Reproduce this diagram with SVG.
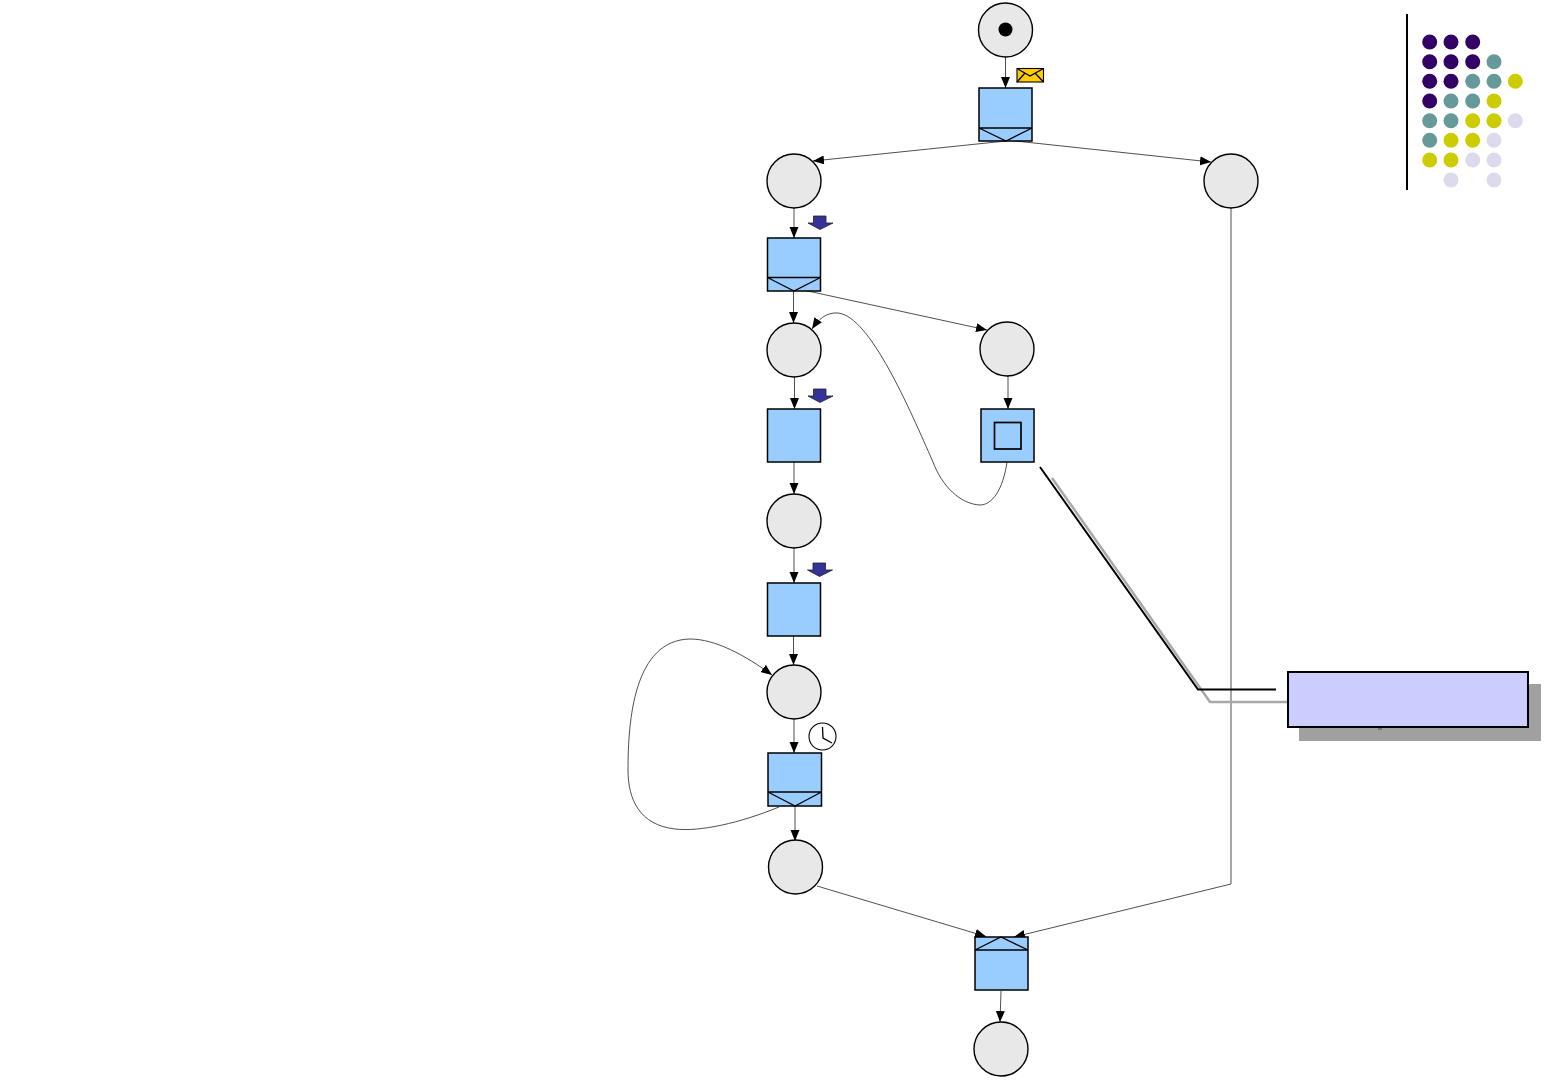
<svg xmlns="http://www.w3.org/2000/svg" width="1560" height="1080" viewBox="0 0 1560 1080">
<style>
.p{fill:#e8e8e8;stroke:#000;stroke-width:1.4}
.t{fill:#99ccff;stroke:#000;stroke-width:1.5}
.s{fill:none;stroke:#000;stroke-width:1.3}
.c{fill:none;stroke:#222;stroke-width:.8;marker-end:url(#a)}
.dn{fill:#333399;stroke:#222;stroke-width:.8}
.d1{fill:#330066}.d2{fill:#669999}.d3{fill:#cccc00}.d4{fill:#dcdaec}
</style>
<defs>
<marker id="a" markerUnits="userSpaceOnUse" markerWidth="12" markerHeight="10" refX="11" refY="4.500" orient="auto"><path d="M0 0L11 4.500L0 9Z" fill="#000"/></marker>
</defs>
<g id="connectors">
<path class="c" d="M1005.500 57V88"/>
<path class="c" d="M1006 141L813 161"/>
<path class="c" d="M1006 140L1211 162"/>
<path class="c" d="M794 208V238"/>
<path class="c" d="M793.500 292V323"/>
<path class="c" d="M794 288L987 330"/>
<path class="c" d="M794.500 377V409"/>
<path class="c" d="M1008 376V409"/>
<path class="c" d="M1007 462C1003 490 992 505 980 505C960 504 942 486 933 462C910 410 870 316 838 313C826 312 818 320 812 329"/>
<path class="c" d="M794 462V494"/>
<path class="c" d="M794 548V583"/>
<path class="c" d="M793.500 636V665"/>
<path class="c" d="M794 719V753"/>
<path class="c" d="M795 806V841"/>
<path class="c" d="M779 807C740 823 700 832 675 829C640 825 628 800 628 770C628 720 634 640 690 639C715 639 745 655 772 675"/>
<path class="c" d="M817 886L986 936.500"/>
<path class="c" d="M1231 208V884L1014 937"/>
<path class="c" d="M1001 991L1000 1022"/>
</g>
<g id="place-start"><circle class="p" cx="1005.500" cy="30" r="27"/><circle cx="1005.500" cy="29.500" r="7"/></g>
<g id="message-icon"><rect x="1017" y="68.500" width="26.500" height="13.500" fill="#ffcc00" stroke="#000" stroke-width="1.1"/><path class="s" d="M1017 68.500L1030 76L1043.500 68.500M1017 82L1025 73M1043.500 82L1035 73"/></g>
<g id="transition-1"><rect class="t" x="979" y="88" width="53" height="53"/><path class="s" d="M979 128H1032M979 128L1006 141L1032 128"/></g>
<g id="place-2"><circle class="p" cx="794" cy="181" r="27"/></g>
<g id="place-3"><circle class="p" cx="1231" cy="181" r="27"/></g>
<g id="trigger-1"><path class="dn" d="M813.500 216H826V223H833L820 229.500L808 223H813.500Z"/></g>
<g id="transition-2"><rect class="t" x="767.500" y="238" width="53" height="53"/><path class="s" d="M767.500 277.500H820.500M767.500 277.500L794 291L820.500 277.500"/></g>
<g id="place-4"><circle class="p" cx="794" cy="350" r="27"/></g>
<g id="place-5"><circle class="p" cx="1007" cy="349" r="27"/></g>
<g id="trigger-2"><path class="dn" d="M813.500 389H826V396H833L820 402.500L808 396H813.500Z"/></g>
<g id="transition-3"><rect class="t" x="767.500" y="409" width="53" height="53"/></g>
<g id="transition-4"><rect class="t" x="981" y="409" width="53" height="53"/><rect x="994.500" y="422.500" width="26.500" height="26.500" fill="none" stroke="#000" stroke-width="1.700"/></g>
<g id="place-6"><circle class="p" cx="794" cy="521" r="27"/></g>
<g id="trigger-3"><path class="dn" d="M813 563H825.500V570H832.500L819.500 576.500L807.500 570H813Z"/></g>
<g id="transition-5"><rect class="t" x="767.500" y="583" width="53" height="53"/></g>
<g id="place-7"><circle class="p" cx="794" cy="692" r="27"/></g>
<g id="timer-icon"><circle cx="822.500" cy="736.500" r="13.500" fill="#fff" stroke="#000" stroke-width="1.100"/><path class="s" d="M822.500 727L823 738L832 743"/></g>
<g id="transition-6"><rect class="t" x="768" y="753" width="53.500" height="53"/><path class="s" d="M768 792H821.500M768 792L795 806L821.500 792"/></g>
<g id="place-8"><circle class="p" cx="795.500" cy="867" r="27"/></g>
<g id="transition-7"><rect class="t" x="975" y="937" width="53" height="53"/><path class="s" d="M975 950H1028M975 950L1001 937L1028 950"/></g>
<g id="place-9"><circle class="p" cx="1001" cy="1049" r="27"/></g>
<g id="callout">
<path d="M1052 478L1210 702H1288" fill="none" stroke="#a8a8a8" stroke-width="2.500"/>
<path d="M1040 467L1198 689.500H1276" fill="none" stroke="#000" stroke-width="2"/>
<rect x="1299" y="684" width="242" height="57" fill="#a0a0a0"/>
<rect x="1378" y="727" width="4" height="3" fill="#777"/>
<rect x="1288" y="672" width="240" height="55" fill="#ccccff" stroke="#000" stroke-width="2"/>
</g>
<g id="decoration">
<path d="M1407 14V190" stroke="#000" stroke-width="2" fill="none"/>
<g class="d1">
<circle cx="1429.700" cy="42" r="7.500"/><circle cx="1451" cy="42" r="7.500"/><circle cx="1472.700" cy="42" r="7.500"/>
<circle cx="1429.700" cy="61.700" r="7.500"/><circle cx="1451" cy="61.700" r="7.500"/><circle cx="1472.700" cy="61.700" r="7.500"/>
<circle cx="1429.700" cy="81.300" r="7.500"/><circle cx="1451" cy="81.300" r="7.500"/>
<circle cx="1429.700" cy="101" r="7.500"/>
</g>
<g class="d2">
<circle cx="1494" cy="61.700" r="7.500"/>
<circle cx="1472.700" cy="81.300" r="7.500"/><circle cx="1494" cy="81.300" r="7.500"/>
<circle cx="1451" cy="101" r="7.500"/><circle cx="1472.700" cy="101" r="7.500"/>
<circle cx="1429.700" cy="120.700" r="7.500"/><circle cx="1451" cy="120.700" r="7.500"/>
<circle cx="1429.700" cy="140.300" r="7.500"/>
</g>
<g class="d3">
<circle cx="1515.300" cy="81.300" r="7.500"/>
<circle cx="1494" cy="101" r="7.500"/>
<circle cx="1472.700" cy="120.700" r="7.500"/><circle cx="1494" cy="120.700" r="7.500"/>
<circle cx="1451" cy="140.300" r="7.500"/><circle cx="1472.700" cy="140.300" r="7.500"/>
<circle cx="1429.700" cy="160" r="7.500"/><circle cx="1451" cy="160" r="7.500"/>
</g>
<g class="d4">
<circle cx="1515.300" cy="120.700" r="7.500"/>
<circle cx="1494" cy="140.300" r="7.500"/>
<circle cx="1472.700" cy="160" r="7.500"/><circle cx="1494" cy="160" r="7.500"/>
<circle cx="1451" cy="180" r="7.500"/><circle cx="1494" cy="180" r="7.500"/>
</g>
</g>
</svg>
